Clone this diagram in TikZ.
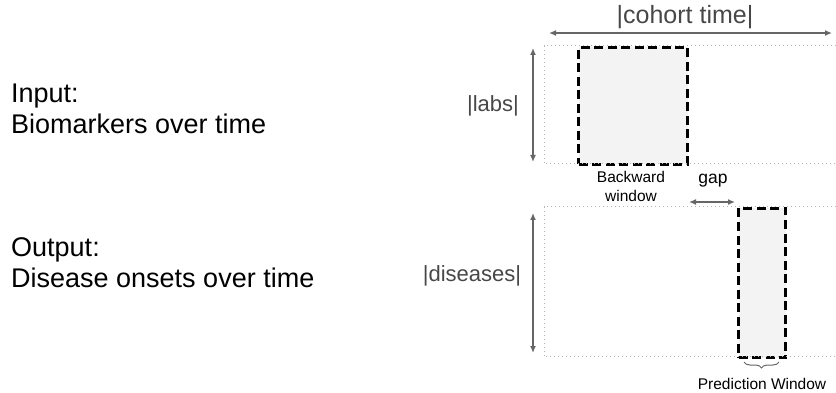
\documentclass[tikz,border=0pt]{standalone}
\usepackage{fontspec}
\setmainfont{Liberation Sans}
\usetikzlibrary{arrows.meta,positioning,decorations.pathreplacing}

\definecolor{dimgray}{HTML}{666666}
\definecolor{dotgray}{HTML}{B5B5B5}
\definecolor{winfill}{HTML}{F3F3F3}

\tikzset{
	dimarrow/.style={draw=dimgray, line width=1.4pt,
		{Latex[length=7pt,width=6pt]}-{Latex[length=7pt,width=6pt]}},
	dotline/.style={draw=dotgray, line width=1pt, dash pattern=on 1pt off 3pt},
	window/.style={draw=black, fill=winfill, line width=3pt,
		dash pattern=on 9pt off 4.5pt, anchor=north west},
	area/.style={anchor=north west},
	bigtext/.style={font=\fontsize{27}{31}\selectfont, align=left, anchor=base west},
	dimtext/.style={font=\fontsize{22}{24}\selectfont, text=dimgray!70!black},
	smalltext/.style={font=\fontsize{15.5}{18.5}\selectfont},
}

\begin{document}
\begin{tikzpicture}[x=1pt,y=-1pt,inner sep=0pt,align=center]
	\useasboundingbox (0,0) rectangle (836,393);

	% Specification of nodes (position, etc.)
	\node (input)				[bigtext]	at (11,134)		{Input:\\Biomarkers over time};
	\node (output)			[bigtext]	at (11,287)		{Output:\\Disease onsets over time};

	\node (labsArea)		[area, minimum width=292, minimum height=117]	at (544,46)	{};
	\node (diseasesArea)[area, minimum width=292, minimum height=149]	at (544,207)	{};
	\node (backwardWin)	[window, minimum width=109, minimum height=117]	at (577,46)	{};
	\node (predictionWin)[window, minimum width=47, minimum height=149]	at (737,207)	{};

	\node (cohortLbl)		[dimtext, font=\fontsize{25}{27}\selectfont]	at (685,17)	{|cohort time|};
	\node (labsLbl)			[dimtext]	at (493,106)	{|labs|};
	\node (diseasesLbl)	[dimtext]	at (472,276)	{|diseases|};
	\node (backwardLbl)	[smalltext, anchor=base]	at (631,201)	{Backward\\window};
	\node (gapLbl)			[smalltext, font=\fontsize{17.5}{19}\selectfont, anchor=base]	at (713,184)	{gap};
	\node (predictionLbl)[smalltext, anchor=base]	at (762,389)	{Prediction Window};

	% free ends of the size arrows
	\coordinate (cohortL)		at (549,33);
	\coordinate (cohortR)		at (832,33);
	\coordinate (labsTop)		at (533,48);
	\coordinate (labsBot)		at (533,162);
	\coordinate (diseasesTop)	at (533,213);
	\coordinate (diseasesBot)	at (533,353);
	\coordinate (gapL)			at (689,202);
	\coordinate (gapR)			at (735,202);
	\coordinate (braceL)		at (744,362);
	\coordinate (braceR)		at (779,362);

	% Specification of lines between nodes specified above
	\draw[dotline]	(labsArea.north east) -- (labsArea.north west)
									-- (labsArea.south west) -- (labsArea.south east);
	\draw[dotline]	(diseasesArea.north east) -- (diseasesArea.north west)
									-- (diseasesArea.south west) -- (diseasesArea.south east);
	\draw[dimarrow]	(cohortL) -- (cohortR);
	\draw[dimarrow]	(labsTop) -- (labsBot);
	\draw[dimarrow]	(diseasesTop) -- (diseasesBot);
	\draw[dimarrow]	(gapL) -- (gapR);
	\draw[draw=dimgray, line width=1pt, decorate,
				decoration={brace, mirror, amplitude=6pt}]	(braceL) -- (braceR);
\end{tikzpicture}
\end{document}
